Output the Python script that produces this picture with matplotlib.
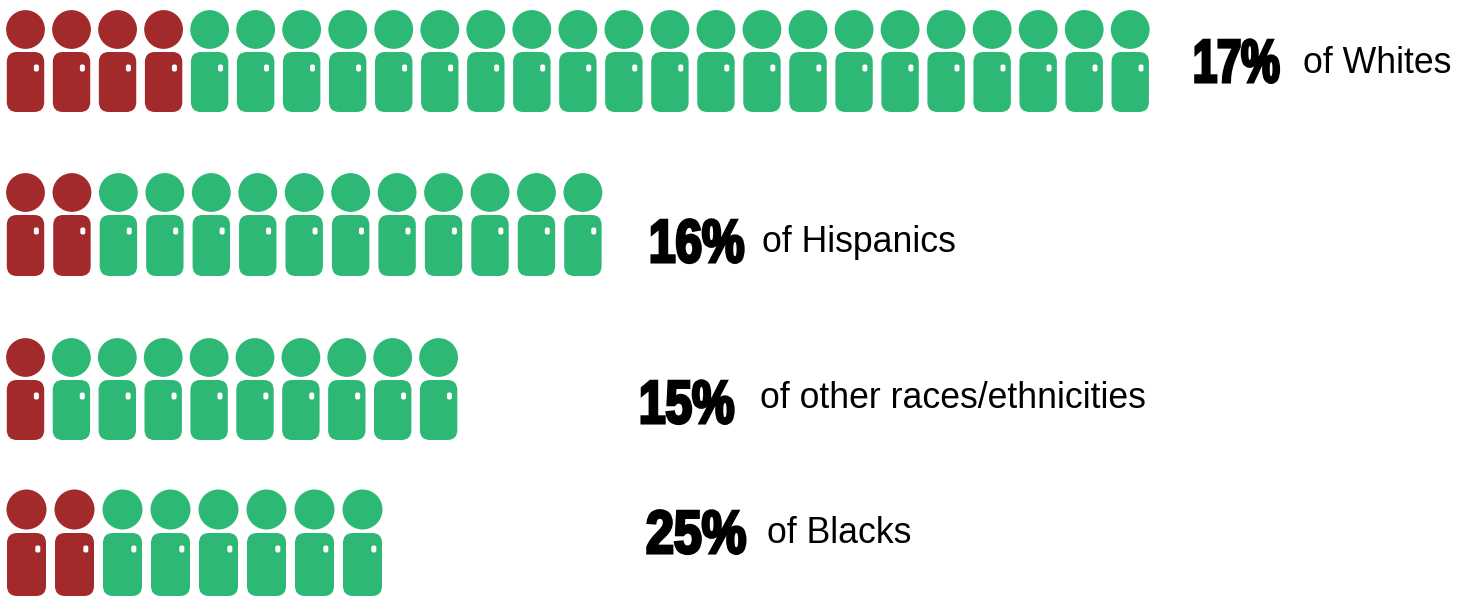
import matplotlib
matplotlib.use("Agg")
import matplotlib.pyplot as plt
import matplotlib.patheffects as pe
from matplotlib.patches import Circle, FancyBboxPatch
from matplotlib.text import Text
from matplotlib.transforms import Affine2D, Bbox

groups = ["of Whites", "of Hispanics", "of other races/ethnicities", "of Blacks"]
percents = ["17%", "16%", "15%", "25%"]
total_people = [25, 13, 10, 8]
red_people = [4, 2, 1, 2]

RED = "#a32a2a"
GREEN = "#2eb875"

# layout in pixels: first head x, spacing, head y, radius, body top, body bottom, half-width
rows = [
    (25.5, 46.03, 29.5, 19.4, 52, 112, 18.7),
    (25.5, 46.45, 192.5, 19.4, 215, 276, 18.7),
    (25.5, 45.9, 357.5, 19.4, 380, 440, 18.7),
    (26.5, 48.0, 509.5, 20, 533, 596, 19.5),
]
pct_left = [(1193, 82), (649, 262), (639, 423), (646, 553)]
pct_squeeze = [0.80, 0.88, 0.88, 0.925]
PCT_STRETCH = 1.12
lab_pos = [(1303, 60), (762, 239), (760, 395), (767, 530)]


class Condensed(pe.AbstractPathEffect):
    """Draw glyphs with a horizontal/vertical scale and a thickening stroke."""

    def __init__(self, sx, sy, lw):
        super().__init__()
        self.sx, self.sy, self.lw = sx, sy, lw

    def draw_path(self, renderer, gc, tpath, affine, rgbFace=None):
        g = renderer.new_gc()
        g.copy_properties(gc)
        g.set_foreground("black")
        g.set_linewidth(self.lw)
        g.set_joinstyle("miter")
        renderer.draw_path(g, tpath, Affine2D().scale(self.sx, self.sy) + affine, rgbFace)
        g.restore()


class CondensedText(Text):
    """Text whose reported extent matches its scaled drawing."""

    squeeze = 1.0

    def get_window_extent(self, renderer=None, dpi=None):
        b = super().get_window_extent(renderer, dpi)
        return Bbox.from_extents(b.x0, b.y0, b.x0 + b.width * self.squeeze, b.y1)


fig = plt.figure(figsize=(14.66, 5.97), dpi=100)
ax = fig.add_axes([0, 0, 1, 1])
ax.set_xlim(0, 1466)
ax.set_ylim(597, 0)
ax.axis("off")

for (x0, dx, hy, r, top, bot, hw), total, red in zip(rows, total_people, red_people):
    for i in range(total):
        c = RED if i < red else GREEN
        x = x0 + dx * i
        ax.add_patch(Circle((x, hy), r, fc=c, ec="none"))
        pad = 10
        ax.add_patch(FancyBboxPatch((x - hw + pad, top + pad), 2 * (hw - pad), bot - top - 2 * pad,
                                    boxstyle=f"round,pad={pad},rounding_size={pad}", fc=c, ec="none"))
        ax.add_patch(FancyBboxPatch((x + hw * 0.58 - 0.5, top + 14.5), 1.0, 3,
                                    boxstyle="round,pad=2,rounding_size=2", fc="white", ec="none"))

for (x, y), p, sx in zip(pct_left, percents, pct_squeeze):
    t = CondensedText(x, y, p, family="Liberation Sans", weight="bold", fontsize=39,
                      ha="left", va="baseline", color="black",
                      path_effects=[Condensed(sx, PCT_STRETCH, 2.2)])
    t.squeeze = sx
    ax.add_artist(t)
for (x, y), g in zip(lab_pos, groups):
    ax.text(x, y + 3.5, g, family="Liberation Sans", fontsize=25.7, ha="left", va="center", color="black")

fig.savefig("out.png", dpi=100, facecolor="white")
